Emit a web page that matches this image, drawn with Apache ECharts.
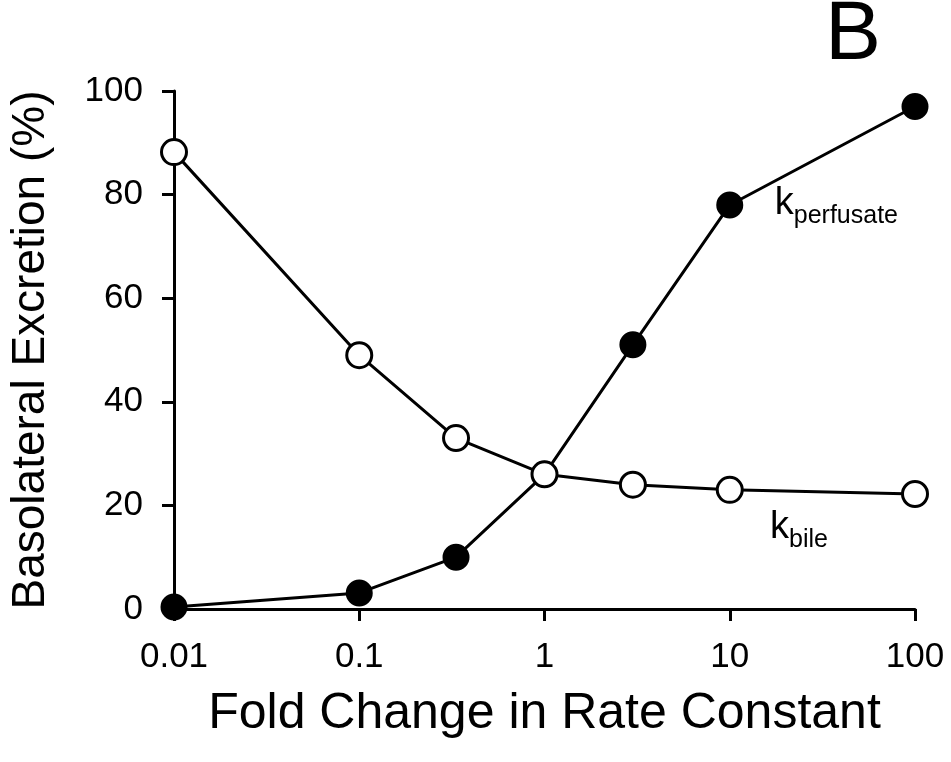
<!DOCTYPE html>
<html lang="en">
<head>
  <meta charset="UTF-8" />
  <title>Basolateral Excretion</title>
  <script src="https://cdn.jsdelivr.net/npm/echarts@6/dist/echarts.min.js"></script>
</head>
<body style="margin:0;overflow:hidden;background:#fff;">
  <div id="panel" style="width:951px;height:762px;"></div>
  <script>
    var foldChange = [0.01, 0.1, 0.333, 1, 3, 10, 100];
    var kPerfusate = [0.4, 3.1, 10, 26, 51, 78, 97];
    var kBile = [88.2, 49, 33, 26, 24, 23, 22.2];

    var font = 'Liberation Sans, Arial, sans-serif';
    var myChart = echarts.init(document.getElementById('panel'));

    function pairs(ys) {
      return foldChange.map(function (x, i) { return [x, ys[i]]; });
    }

    var subRich = {
      k: { fontSize: 38, fontFamily: font, color: '#000', verticalAlign: 'top', lineHeight: 40 },
      s: { fontSize: 25, fontFamily: font, color: '#000', padding: [22, 0, 0, 0], lineHeight: 25 }
    };

    var option = {
      animation: false,
      title: {
        text: 'B', left: 820, top: -11,
        textStyle: { fontSize: 84, fontWeight: 'normal', fontFamily: font, color: '#000' }
      },
      grid: { left: 171, right: 36, top: 91, bottom: 153 },
      xAxis: {
        type: 'log', logBase: 10, min: 0.01, max: 100,
        name: 'Fold Change in Rate Constant', nameLocation: 'middle', nameGap: 80,
        nameTextStyle: { fontSize: 50, fontFamily: font, color: '#000' },
        axisLine: { lineStyle: { color: '#000', width: 3 } },
        axisTick: { length: 12, lineStyle: { color: '#000', width: 3 } },
        axisLabel: {
          fontSize: 35, fontFamily: font, color: '#000', margin: 31,
          formatter: function (v) { return String(+v.toPrecision(3)); }
        },
        splitLine: { show: false }
      },
      yAxis: {
        type: 'value', min: 0, max: 100, interval: 20,
        name: 'Basolateral Excretion (%)', nameLocation: 'middle', nameGap: 120,
        nameTextStyle: { fontSize: 46, fontFamily: font, color: '#000' },
        axisLine: { show: true, lineStyle: { color: '#000', width: 3 } },
        axisTick: { show: true, length: 12, lineStyle: { color: '#000', width: 3 } },
        axisLabel: { fontSize: 35, fontFamily: font, color: '#000', margin: 31 },
        splitLine: { show: false }
      },
      series: [
        {
          name: 'kperfusate', type: 'line', data: pairs(kPerfusate),
          symbol: 'circle', symbolSize: 25,
          lineStyle: { color: '#000', width: 3 },
          itemStyle: { color: '#000', borderColor: '#000', borderWidth: 2 },
          markPoint: {
            symbol: 'circle', symbolSize: 0,
            data: [{ coord: [17.5, 78] }],
            label: {
              show: true, position: 'right', distance: 0,
              formatter: '{k|k}{s|perfusate}', rich: subRich
            }
          },
          z: 2
        },
        {
          name: 'kbile', type: 'line', data: pairs(kBile),
          symbol: 'circle', symbolSize: 25,
          lineStyle: { color: '#000', width: 3 },
          itemStyle: { color: '#fff', borderColor: '#000', borderWidth: 3 },
          markPoint: {
            symbol: 'circle', symbolSize: 0,
            data: [{ coord: [16.5, 15.5] }],
            label: {
              show: true, position: 'right', distance: 0,
              formatter: '{k|k}{s|bile}', rich: subRich
            }
          },
          z: 3
        }
      ]
    };

    myChart.setOption(option);
  </script>
</body>
</html>
